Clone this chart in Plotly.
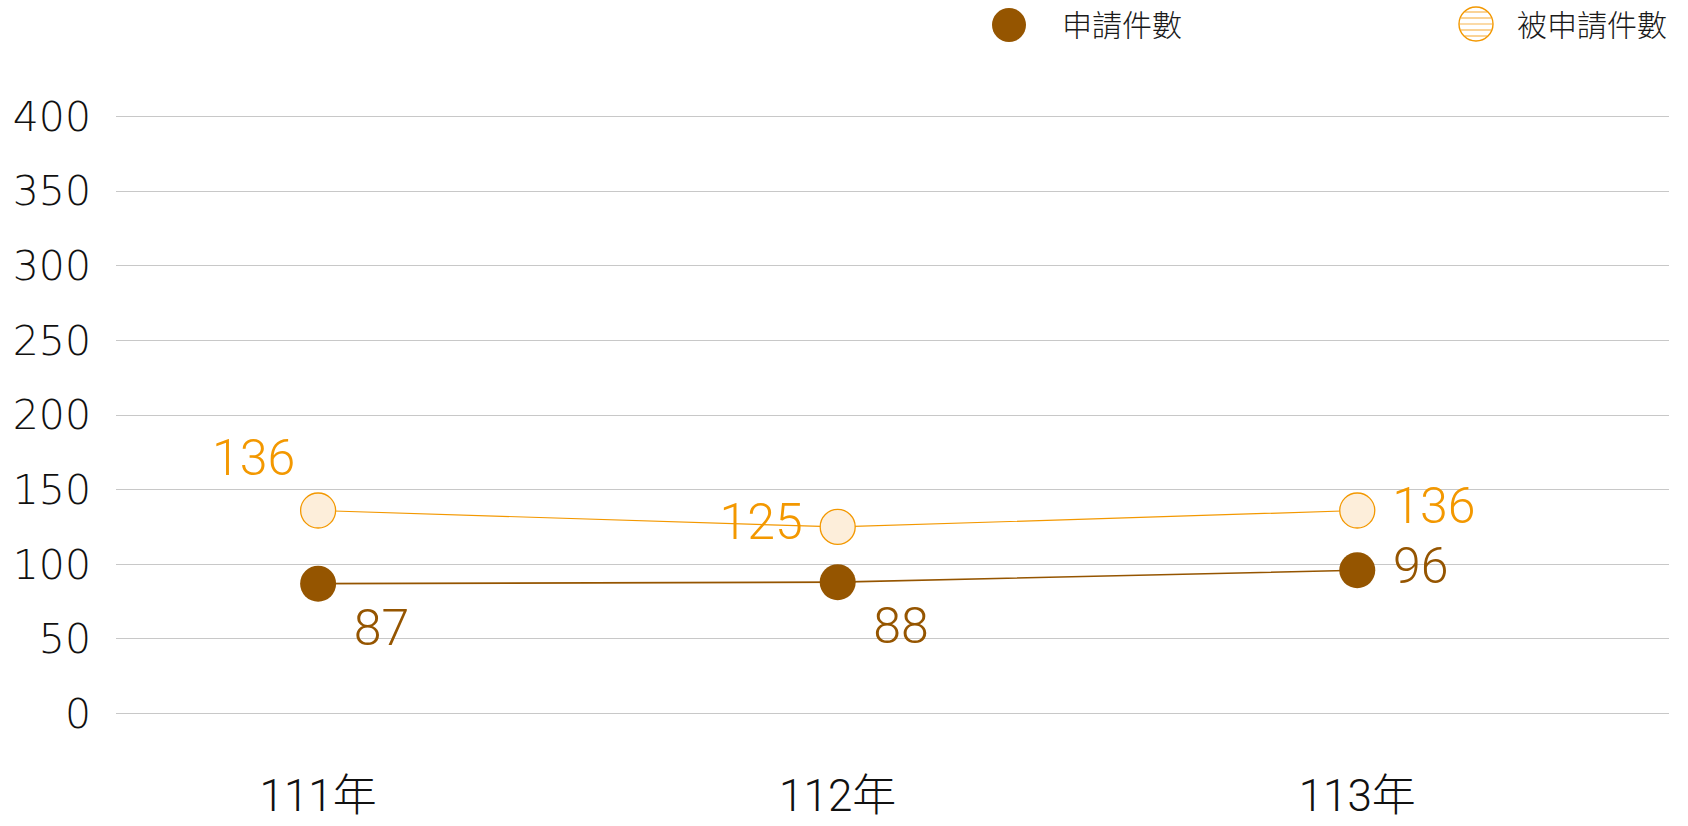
import math
import plotly.graph_objects as go

# ---- data ----
years = ["111年", "112年", "113年"]
series_names = ["申請件數", "被申請件數"]
applied = [87, 88, 96]
respondent = [136, 125, 136]
y_ticks = [0, 50, 100, 150, 200, 250, 300, 350, 400]

BROWN = "#955500"
ORANGE = "#F39800"
HATCH_FILL = "#FDEEDA"
NB = "\u00a0"

W, H = 1688, 826
ML, MR, MT, MB = 116, 19, 115, 111
PW, PH = W - ML - MR, H - MT - MB

resp_pos = ["top left", "middle left", "middle right"]
appl_pos = ["bottom right", "bottom right", "middle right"]


def pad(v, pos):
    s = str(v)
    if pos.endswith("right"):
        return NB + s
    if pos == "middle left":
        return s + NB
    return s


fig = go.Figure()

fig.add_trace(go.Scatter(
    x=years, y=respondent, name=series_names[1], mode="lines+markers+text",
    text=[pad(v, p) for v, p in zip(respondent, resp_pos)],
    textposition=resp_pos,
    textfont=dict(family="Roboto, Liberation Sans", size=50, color=ORANGE, weight=300),
    line=dict(color=ORANGE, width=1.2),
    marker=dict(size=35, color=HATCH_FILL, line=dict(color=ORANGE, width=1.3)),
    cliponaxis=False, showlegend=False, hoverinfo="skip",
))
fig.add_trace(go.Scatter(
    x=years, y=applied, name=series_names[0], mode="lines+markers+text",
    text=[pad(v, p) for v, p in zip(applied, appl_pos)],
    textposition=appl_pos,
    textfont=dict(family="Roboto, Liberation Sans", size=50, color=BROWN, weight=300),
    line=dict(color=BROWN, width=1.6),
    marker=dict(size=36, color=BROWN, line=dict(color=BROWN, width=0)),
    cliponaxis=False, showlegend=False, hoverinfo="skip",
))

# ---- custom legend (top right) ----
def px_to_paper(xp, yp):
    return (xp - ML) / PW, (MT + PH - yp) / PH

shapes = []
annotations = []
legend_items = [
    (series_names[0], 1009, 25, 1060, "solid"),
    (series_names[1], 1476, 24, 1515, "hatch"),
]
R = 17
TEXT_Y = 23
for name, cx, cy, tx, style in legend_items:
    px_, py_ = px_to_paper(cx, cy)
    if style == "solid":
        shapes.append(dict(type="circle", xref="paper", yref="paper",
                           xsizemode="pixel", ysizemode="pixel",
                           xanchor=px_, yanchor=py_, x0=-R, x1=R, y0=-R, y1=R,
                           fillcolor=BROWN, line=dict(width=0)))
    else:
        for dy in (-12, -6, 0, 6, 12):
            hw = math.sqrt(R * R - dy * dy) - 0.5
            shapes.append(dict(type="line", xref="paper", yref="paper",
                               xsizemode="pixel", ysizemode="pixel",
                               xanchor=px_, yanchor=py_, x0=-hw, x1=hw, y0=dy, y1=dy,
                               line=dict(color="#F7B650", width=1.2)))
        shapes.append(dict(type="circle", xref="paper", yref="paper",
                           xsizemode="pixel", ysizemode="pixel",
                           xanchor=px_, yanchor=py_, x0=-R, x1=R, y0=-R, y1=R,
                           fillcolor="rgba(0,0,0,0)", line=dict(color=ORANGE, width=1.4)))
    tx_p, ty_p = px_to_paper(tx, TEXT_Y)
    annotations.append(dict(text=name, xref="paper", yref="paper", x=tx_p, y=ty_p,
                            xanchor="left", yanchor="middle", showarrow=False,
                            font=dict(family="Noto Sans CJK TC", size=30, color="#1a1a1a", weight=300)))

fig.update_layout(
    width=W, height=H,
    margin=dict(l=ML, r=MR, t=MT, b=MB, pad=0, autoexpand=False),
    paper_bgcolor="white", plot_bgcolor="white",
    showlegend=False,
    shapes=shapes, annotations=annotations,
    xaxis=dict(type="category", categoryorder="array", categoryarray=years,
               range=[-0.389, 2.6], showgrid=False, zeroline=False, showline=False,
               automargin=False, ticks="", ticklabelstandoff=51,
               tickfont=dict(family="Roboto, Noto Sans CJK TC", size=44, color="#111111", weight=300)),
    yaxis=dict(range=[-1, 401], tickvals=y_ticks, ticktext=[str(v) for v in y_ticks],
               showgrid=True, gridcolor="#c8c8c8", gridwidth=1,
               zeroline=False, showline=False, automargin=False,
               ticks="", ticklabelstandoff=24,
               tickfont=dict(family="DejaVu Sans", size=41, color="#111111", weight=200)),
)

fig.write_html("out.html", config={"displayModeBar": False},
               post_script="document.body.style.margin='0';")
